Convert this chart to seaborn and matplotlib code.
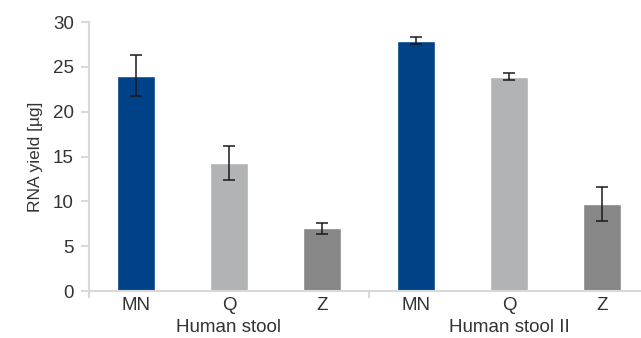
import matplotlib
matplotlib.use("Agg")
import matplotlib.pyplot as plt
import seaborn as sns
import pandas as pd

# RNA yield per isolation method, two stool samples
groups = ["Human stool", "Human stool II"]
methods = ["MN", "Q", "Z"]
yield_hs1 = [24.0, 14.3, 7.0]
yield_hs2 = [27.9, 23.9, 9.7]
err_hs1 = [2.3, 1.9, 0.6]
err_hs2 = [0.4, 0.4, 1.9]
y_ticks = [0, 5, 10, 15, 20, 25, 30]

colors = {"MN": "#004288", "Q": "#B2B3B4", "Z": "#878787"}
text_color = "#333333"
axis_color = "#D9D9D9"

rows = []
for g, vals, errs in [(groups[0], yield_hs1, err_hs1), (groups[1], yield_hs2, err_hs2)]:
    for m, v, e in zip(methods, vals, errs):
        rows.append({"slot": f"{g}|{m}", "group": g, "method": m, "value": v, "err": e})
df = pd.DataFrame(rows)
order = list(df["slot"])

sns.set_theme(style="white")
plt.rcParams["font.family"] = ["Liberation Sans", "DejaVu Sans"]

fig = plt.figure(figsize=(6.41, 3.38), dpi=100)
ax = fig.add_axes([89 / 641, 47 / 338, 560 / 641, 269 / 338])

sns.barplot(data=df, x="slot", y="value", hue="method", order=order,
            palette=colors, dodge=False, width=0.41, legend=False,
            errorbar=None, ax=ax, saturation=1)
ax.errorbar(range(len(df)), df["value"], yerr=df["err"], fmt="none",
            ecolor="#1a1a1a", elinewidth=1.1, capsize=4.5, capthick=1.1)

ax.set_xlim(-0.5, len(df) - 0.5)
ax.set_ylim(0, 30)
ax.set_yticks(y_ticks)
ax.set_xticks(range(len(df)))
ax.set_xticklabels(list(df["method"]))
ax.set_xticks([-0.5, 2.5, 5.5], minor=True)
ax.set_xlabel("")
ax.set_ylabel("RNA yield [µg]", fontsize=12.5, color=text_color, labelpad=7)

for side in ["top", "right"]:
    ax.spines[side].set_visible(False)
for side in ["left", "bottom"]:
    ax.spines[side].set_color(axis_color)
    ax.spines[side].set_linewidth(1.5)

ax.tick_params(axis="y", which="major", direction="out", length=6, width=1.5,
               color=axis_color, labelsize=13.5, labelcolor=text_color, pad=5, left=True)
ax.tick_params(axis="x", which="major", length=0, labelsize=13.5,
               labelcolor=text_color, pad=4)
ax.tick_params(axis="x", which="minor", direction="out", length=5, width=1.5,
               color=axis_color, bottom=True)

# group labels under each block of three bars
for i, g in enumerate(groups):
    ax.text(i * 3 + 1, -0.103, g, transform=ax.get_xaxis_transform(),
            ha="center", va="top", fontsize=13.5, color=text_color)

fig.savefig("out.png", dpi=100)
